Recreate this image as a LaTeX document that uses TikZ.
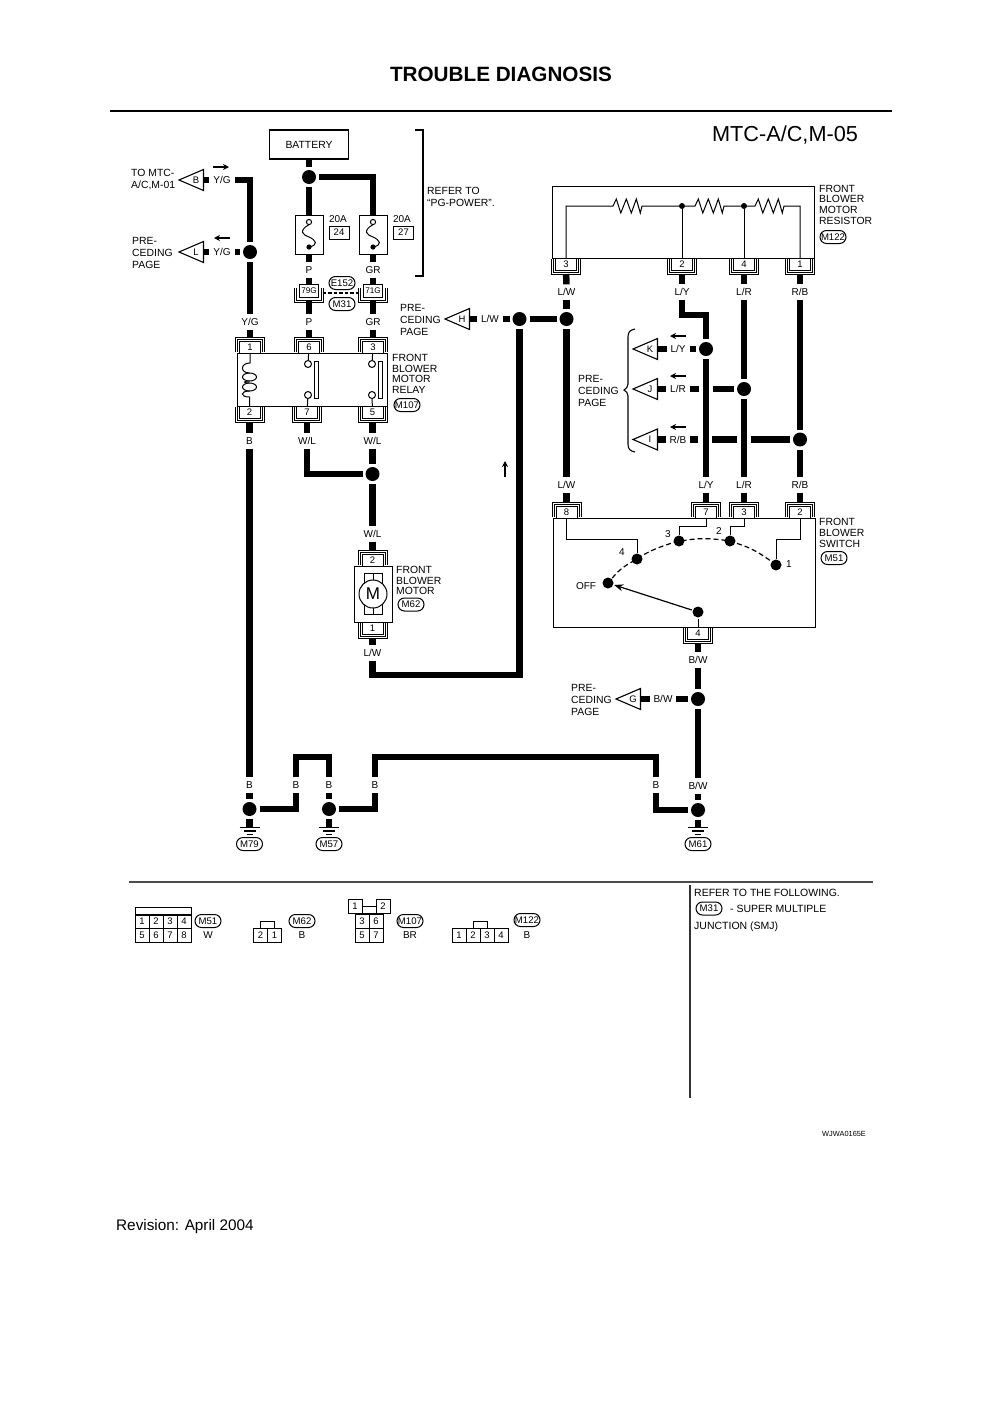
\documentclass[tikz,border=0pt]{standalone}
\usepackage{fontspec}
\setmainfont{Liberation Sans}
\usetikzlibrary{arrows.meta,positioning,shapes.misc}

\newcommand{\pinup}[4]{
	\draw[bracket] (#2-14.5,#3-1) -- (#2-14.5,#3-16) -- (#2+14.5,#3-16) -- (#2+14.5,#3-1);
	\draw[bracket] (#2-12.5,#3-1) -- (#2-12.5,#3-14) -- (#2+12.5,#3-14) -- (#2+12.5,#3-1);
	\node[pinbox] (#1) at (#2,#3-6) {#4};
}
\newcommand{\pindown}[4]{
	\draw[bracket] (#2-14.5,#3+1) -- (#2-14.5,#3+16) -- (#2+14.5,#3+16) -- (#2+14.5,#3+1);
	\draw[bracket] (#2-12.5,#3+1) -- (#2-12.5,#3+14) -- (#2+12.5,#3+14) -- (#2+12.5,#3+1);
	\node[pinbox] (#1) at (#2,#3+6) {#4};
}
\newcommand{\jointbox}[3]{
	\draw[bracket] (#2-14.5,288) -- (#2-14.5,302) -- (#2+14.5,302) -- (#2+14.5,288);
	\draw[bracket] (#2-12.5,288) -- (#2-12.5,300) -- (#2+12.5,300) -- (#2+12.5,288);
	\node[pinbox,minimum width=19,minimum height=13,font=\fontsize{8.2}{9}\selectfont] (#1) at (#2,290.5) {#3};
}
\newcommand{\tagshape}[4]{
	\draw[tagline] (#2,#3) -- (#2+24.5,#3-10.5) -- (#2+24.5,#3+10.5) -- cycle;
	\node[tagletter] (#1) at (#2+17,#3) {#4};
}
\newcommand{\fusebox}[2]{
	\node[devbox,minimum width=28,minimum height=39] (#1) at (#2,234.5) {};
	\draw[inwire,fill=white] (#2,222) circle (2.6);
	\draw[inwire] (#2,224.6) .. controls (#2-11,231) and (#2-6,235) .. (#2,237) .. controls (#2+7,240) and (#2+10,245) .. (#2,247);
	\fill (#2,247) circle (2.6);
}
\newcommand{\groundmark}[3]{
	\coordinate (#1) at (#2,827);
	\draw[gndline] (#2-10,827.5) -- (#2+10,827.5);
	\draw[gndline] (#2-6,831) -- (#2+6,831);
	\draw[gndline] (#2-3,834.5) -- (#2+3,834.5);
	\node[ovaltag] (#1tag) at (#2,844) {#3};
}
\newcommand{\zigpath}{-- ++(3.3,-7) -- ++(4.5,14) -- ++(5.5,-14) -- ++(5,14) -- ++(5,-14) -- ++(4,14) -- ++(1.7,-7)}

\begin{document}
\begin{tikzpicture}[x=1pt,y=-1pt,
	wire/.style={line width=6.5pt},
	inwire/.style={line width=1pt},
	bracket/.style={line width=0.8pt},
	tagline/.style={line width=1.1pt},
	gndline/.style={line width=1.2pt},
	flow/.style={line width=1.2pt,-{Stealth[length=6pt,width=6pt]}},
	wirelbl/.style={inner sep=0pt,outer sep=4pt,text height=7.2pt,text depth=0pt,font=\fontsize{10}{10}\selectfont},
	tagletter/.style={inner sep=0pt,minimum width=15,font=\fontsize{9.5}{10}\selectfont},
	pinbox/.style={draw,fill=white,line width=0.9pt,inner sep=0pt,outer sep=4pt,minimum width=21,minimum height=12,font=\fontsize{9.5}{10}\selectfont},
	devbox/.style={draw,line width=1pt,inner sep=0pt},
	junct/.style={circle,fill=black,inner sep=0pt,minimum size=14,outer sep=3pt},
	swdot/.style={circle,fill=black,inner sep=0pt,minimum size=11,outer sep=1pt},
	tapdot/.style={circle,fill=black,inner sep=0pt,minimum size=6,outer sep=0pt},
	opendot/.style={circle,draw,fill=white,line width=1pt,inner sep=0pt,minimum size=7},
	crossgap/.style={inner sep=0pt,minimum size=14,outer sep=0pt},
	ovaltag/.style={rounded rectangle,draw,line width=1pt,inner xsep=1pt,inner ysep=1pt,minimum width=28,minimum height=13,font=\fontsize{9.6}{10}\selectfont},
	descr/.style={inner sep=0pt,anchor=west,align=left,font=\fontsize{10.4}{10.7}\selectfont},
	pagetxt/.style={inner sep=0pt,anchor=west,align=left,font=\fontsize{10.4}{12}\selectfont},
	facecell/.style={draw,line width=0.9pt,inner sep=0pt,minimum width=14,minimum height=14,font=\fontsize{9.5}{10}\selectfont},
	facetxt/.style={inner sep=0pt,font=\fontsize{10}{10}\selectfont}]

	\useasboundingbox (0,0) rectangle (1000,1414);

	\node[font=\fontsize{20.7}{22}\selectfont\bfseries] (title) at (501,74) {TROUBLE DIAGNOSIS};
	\node[font=\fontsize{21.7}{23}\selectfont] (sheet) at (785,135) {MTC-A/C,M-05};
	\draw[line width=2.5pt] (110,111) -- (892,111);

	\node[devbox,line width=1.2pt,minimum width=79,minimum height=29,font=\fontsize{10.4}{11}\selectfont] (battery) at (309,144.5) {BATTERY};
	\node[junct] (dotBat) at (309,177) {};
	\fusebox{fuseP}{309}
	\fusebox{fuseGR}{373}
	\node[facetxt] (ampP) at (338,219) {20A};
	\node[devbox,minimum width=20,minimum height=13,font=\fontsize{9.5}{10}\selectfont] (boxP) at (339,232.5) {24};
	\node[facetxt] (ampGR) at (402,219) {20A};
	\node[devbox,minimum width=20,minimum height=13,font=\fontsize{9.5}{10}\selectfont] (boxGR) at (403.5,232.5) {27};
	\draw[line width=1.2pt] (415,130) -- (423,130) -- (423,276) -- (415,276);
	\node[pagetxt] (referPG) at (427,197) {REFER TO\\``PG-POWER''.};

	\node[wirelbl] (lblP1) at (309,270) {P};
	\node[wirelbl] (lblGR1) at (373,270) {GR};
	\jointbox{j79}{309}{79G}
	\jointbox{j71}{373}{71G}
	\node[ovaltag] (tagE152) at (342,283) {E152};
	\node[ovaltag] (tagM31) at (342,304) {M31};
	\draw[line width=1.2pt,dash pattern=on 3.5pt off 2pt] ([yshift=-2.5pt]j79.east) -- ([yshift=-2.5pt]j71.west);
	\node[wirelbl] (lblP2) at (309,322) {P};
	\node[wirelbl] (lblGR2) at (373,322) {GR};
	\node[wirelbl] (lblYG3) at (250,322) {Y/G};

	\path[wire]
	(battery) edge (dotBat)
	(dotBat) edge (fuseP)
	(fuseP) edge (lblP1)
	(fuseGR) edge (lblGR1)
	(lblP1) edge [shorten >=-4pt] (j79)
	(lblGR1) edge [shorten >=-4pt] (j71)
	(j79) edge (lblP2)
	(j71) edge (lblGR2);
	\draw[wire] (dotBat) -| (fuseGR);

	\tagshape{tagB}{179}{180}{B}
	\node[wirelbl] (lblYG1) at (222,180) {Y/G};
	\draw[flow] (213,167) -- (229,167);
	\node[pagetxt] (toMTC) at (131,180) {TO MTC-\\A/C,M-01};
	\coordinate (cnrYG) at (250,180);
	\tagshape{tagL}{179}{252}{L}
	\node[wirelbl] (lblYG2) at (222,252) {Y/G};
	\draw[flow] (230,238) -- (214,238);
	\node[pagetxt] (pageL) at (132,252.5) {PRE-\\CEDING\\PAGE};
	\node[junct] (dotL) at (250,252) {};
	\draw[wire] (tagB) -- (lblYG1);
	\draw[wire] (lblYG1) -- (cnrYG) -- (dotL);
	\draw[wire] (tagL) -- (lblYG2);
	\draw[wire] (lblYG2) -- (dotL);
	\draw[wire] (dotL) -- (lblYG3);

	\node[devbox,minimum width=150,minimum height=53] (relay) at (312,379.5) {};
	\pinup{pin1}{250}{353}{1}
	\pinup{pin6}{309}{353}{6}
	\pinup{pin3}{373}{353}{3}
	\pindown{pin2}{249.5}{406}{2}
	\pindown{pin7}{307}{406}{7}
	\pindown{pin5}{372.5}{406}{5}
	\draw[wire] (lblYG3) -- (pin1);
	\draw[wire] (lblP2) -- (pin6);
	\draw[wire] (lblGR2) -- (pin3);
	\node[opendot] (c6) at (308,364) {};
	\node[opendot] (c7) at (308,395) {};
	\node[opendot] (c3) at (372,364) {};
	\node[opendot] (c5) at (372,395) {};
	\draw[inwire,fill=white] (314,361) rectangle (318,398);
	\draw[inwire,fill=white] (378,361) rectangle (382,398);
	\draw[inwire,shorten <=-4pt] (pin6) -- (c6);
	\draw[inwire,shorten >=-4pt] (c7) -- (pin7);
	\draw[inwire,shorten <=-4pt] (pin3) -- (c3);
	\draw[inwire,shorten >=-4pt] (c5) -- (pin5);
	\draw[inwire] (249.5,377) ellipse (7 and 4);
	\draw[inwire] (249.5,387) ellipse (7 and 4);
	\draw[inwire,shorten <=-4pt] (pin1) -- (250,363) .. controls (240,363) and (240,373) .. (249.5,373);
	\draw[inwire] (249.5,381) .. controls (243,381) and (243,383) .. (249.5,383);
	\draw[inwire,shorten >=-4pt] (249.5,391) .. controls (240,391) and (240,397) .. (249.5,397) -- (pin2);
	\node[descr] (relayTxt) at (392,374) {FRONT\\BLOWER\\MOTOR\\RELAY};
	\node[ovaltag] (tagM107) at (407,405) {M107};

	\node[wirelbl] (lblB1) at (249.5,441) {B};
	\node[wirelbl] (lblWL1) at (307,441) {W/L};
	\node[wirelbl] (lblWL2) at (372.5,441) {W/L};
	\node[junct] (dotMot) at (372.5,474) {};
	\node[wirelbl] (lblWL3) at (372.5,534) {W/L};
	\path[wire]
	(pin2) edge (lblB1)
	(pin7) edge (lblWL1)
	(pin5) edge (lblWL2)
	(lblWL2) edge (dotMot)
	(dotMot) edge (lblWL3);
	\draw[wire] (lblWL1) |- (dotMot);

	\node[devbox,minimum width=38,minimum height=56] (motor) at (373,594) {};
	\draw[inwire] (364,573) rectangle (382,614);
	\draw[inwire] (373,573) -- (373,614);
	\node[circle,draw,fill=white,line width=1pt,inner sep=0pt,minimum size=28,font=\fontsize{17}{18}\selectfont] (motorM) at (373,594) {M};
	\pinup{pinM2}{372.5}{566}{2}
	\pindown{pinM1}{372.5}{622}{1}
	\node[descr] (motorTxt) at (396,580.5) {FRONT\\BLOWER\\MOTOR};
	\node[ovaltag] (tagM62) at (411,604.5) {M62};
	\node[wirelbl] (lblLW5) at (372.5,653) {L/W};
	\draw[wire] (lblWL3) -- (pinM2);
	\draw[wire] (pinM1) -- (lblLW5);

	\node[devbox,minimum width=262,minimum height=72] (resistor) at (683,222) {};
	\pindown{pinR3}{566}{258}{3}
	\pindown{pinR2}{682}{258}{2}
	\pindown{pinR4}{744}{258}{4}
	\pindown{pinR1}{800}{258}{1}
	\node[tapdot] (dotR2) at (682,206) {};
	\node[tapdot] (dotR4) at (744,206) {};
	\coordinate (cnrR3) at (566,206);
	\coordinate (cnrR1) at (800,206);
	\draw[inwire,shorten <=-4pt] (pinR3) -- (cnrR3) -- (613,206) \zigpath -- (dotR2);
	\draw[inwire] (dotR2) -- (695,206) \zigpath -- (dotR4);
	\draw[inwire,shorten >=-4pt] (dotR4) -- (755,206) \zigpath -- (cnrR1) -- (pinR1);
	\draw[inwire,shorten >=-4pt] (dotR2) -- (pinR2);
	\draw[inwire,shorten >=-4pt] (dotR4) -- (pinR4);
	\node[descr] (resistorTxt) at (819,204.5) {FRONT\\BLOWER\\MOTOR\\RESISTOR};
	\node[ovaltag] (tagM122) at (833,237) {M122};

	\node[wirelbl] (lblLW1) at (566.5,292) {L/W};
	\node[wirelbl] (lblLY1) at (682,292) {L/Y};
	\node[wirelbl] (lblLR1) at (744,292) {L/R};
	\node[wirelbl] (lblRB1) at (800,292) {R/B};
	\node[wirelbl] (lblLW3) at (566.5,485) {L/W};
	\node[wirelbl] (lblLY3) at (706,485) {L/Y};
	\node[wirelbl] (lblLR3) at (744,485) {L/R};
	\node[wirelbl] (lblRB3) at (800,485) {R/B};

	\node[junct] (dotLW) at (566.5,319) {};
	\node[junct] (dotH) at (519.5,319) {};
	\tagshape{tagH}{445}{319}{H}
	\node[wirelbl] (lblLW4) at (490,319) {L/W};
	\node[pagetxt] (pageH) at (400,319.5) {PRE-\\CEDING\\PAGE};
	\coordinate (cnrH) at (519.5,675);
	\draw[wire] (tagH) -- (lblLW4);
	\draw[wire] (lblLW4) -- (dotH);
	\draw[wire] (dotH) -- (dotLW);
	\draw[wire] (lblLW5) |- (cnrH) -- (dotH);
	\draw[flow] (505,477) -- (505,461);

	\node[junct] (dotK) at (706,349) {};
	\node[junct] (dotJ) at (744,389) {};
	\node[junct] (dotI) at (800,439.5) {};
	\tagshape{tagK}{633}{349}{K}
	\tagshape{tagJ}{633}{389}{J}
	\tagshape{tagI}{633}{439.5}{I}
	\node[wirelbl] (lblLY2) at (678,349) {L/Y};
	\node[wirelbl] (lblLR2) at (678,389) {L/R};
	\node[wirelbl] (lblRB2) at (678,439.5) {R/B};
	\node[crossgap] (gapJ) at (705.5,389) {};
	\node[crossgap] (gapI1) at (705,439.5) {};
	\node[crossgap] (gapI2) at (744,439.5) {};
	\coordinate (cnrLY) at (706,315);
	\draw[flow] (686,336) -- (670,336);
	\draw[flow] (686,376) -- (670,376);
	\draw[flow] (686,427) -- (670,427);
	\draw[line width=1.1pt] (635,329) .. controls (630,330) and (628,332) .. (628,337) -- (628,384) .. controls (628,387) and (626,389) .. (624,390) .. controls (626,391) and (628,393) .. (628,396) -- (628,444) .. controls (628,449) and (630,451) .. (635,452);
	\node[pagetxt] (pageKJI) at (578,390.5) {PRE-\\CEDING\\PAGE};

	\path[wire]
	(pinR3) edge (lblLW1)
	(pinR2) edge (lblLY1)
	(pinR4) edge (lblLR1)
	(pinR1) edge (lblRB1)
	(lblLW1) edge (dotLW)
	(dotLW) edge (lblLW3)
	(lblLR1) edge (dotJ)
	(dotJ) edge (lblLR3)
	(lblRB1) edge (dotI)
	(dotI) edge (lblRB3)
	(dotK) edge (lblLY3)
	(tagK) edge (lblLY2)
	(lblLY2) edge (dotK)
	(tagJ) edge (lblLR2)
	(lblLR2) edge (gapJ)
	(gapJ) edge (dotJ)
	(tagI) edge (lblRB2)
	(lblRB2) edge (gapI1)
	(gapI1) edge (gapI2)
	(gapI2) edge (dotI);
	\draw[wire] (lblLY1) |- (cnrLY) -- (dotK);

	\node[devbox,minimum width=262,minimum height=109] (switch) at (684,572.5) {};
	\pinup{pinS8}{566.5}{518}{8}
	\pinup{pinS7}{706}{518}{7}
	\pinup{pinS3}{744}{518}{3}
	\pinup{pinS2}{800}{518}{2}
	\pindown{pinS4}{698}{627}{4}
	\node[swdot] (sw4) at (637,559) {};
	\node[swdot] (sw3) at (679,541) {};
	\node[swdot] (sw2) at (730,541) {};
	\node[swdot] (sw1) at (776,565) {};
	\node[swdot] (swOff) at (608,583) {};
	\node[swdot] (swPivot) at (698,612) {};
	\coordinate (cnrS8) at (637,539);
	\coordinate (cnrS7) at (679,526);
	\coordinate (cnrS3) at (730,526);
	\coordinate (cnrS2) at (776,539);
	\draw[inwire,shorten <=-4pt] (pinS8) |- (cnrS8) -- (sw4);
	\draw[inwire,shorten <=-4pt] (pinS7) |- (cnrS7) -- (sw3);
	\draw[inwire,shorten <=-4pt] (pinS3) |- (cnrS3) -- (sw2);
	\draw[inwire,shorten <=-4pt] (pinS2) |- (cnrS2) -- (sw1);
	\draw[inwire,shorten >=-4pt] (swPivot) -- (pinS4);
	\draw[line width=1.2pt,-{Stealth[length=9pt,width=7pt]}] (swPivot) -- (swOff);
	\draw[line width=1.2pt,dash pattern=on 5pt off 3pt] (swOff) to[bend left=10] (sw4) to[bend left=8] (sw3) to[bend left=10] (sw2) to[bend left=12] (sw1);
	\node[facetxt] (num4) at (622,552) {4};
	\node[facetxt] (num3) at (668,534) {3};
	\node[facetxt] (num2) at (719,531) {2};
	\node[facetxt] (num1) at (789,564) {1};
	\node[facetxt] (numOff) at (586,586) {OFF};
	\node[descr] (switchTxt) at (819,533) {FRONT\\BLOWER\\SWITCH};
	\node[ovaltag] (tagM51) at (834,558) {M51};

	\path[wire]
	(lblLW3) edge (pinS8)
	(lblLY3) edge (pinS7)
	(lblLR3) edge (pinS3)
	(lblRB3) edge (pinS2);

	\node[wirelbl] (lblBW1) at (698,660) {B/W};
	\node[junct] (dotG) at (698,699) {};
	\tagshape{tagG}{616}{699}{G}
	\node[wirelbl] (lblBW2) at (663,699) {B/W};
	\node[pagetxt] (pageG) at (571,699.5) {PRE-\\CEDING\\PAGE};
	\node[wirelbl] (lblBW3) at (698,786) {B/W};
	\node[junct] (dotM61) at (698,810) {};
	\node[wirelbl] (lblB2) at (249.5,785) {B};
	\node[junct] (dotM79) at (249.5,809) {};
	\node[wirelbl] (lblB3) at (296,785) {B};
	\node[wirelbl] (lblB4) at (329,785) {B};
	\node[junct] (dotM57) at (329,809) {};
	\node[wirelbl] (lblB5) at (375,785) {B};
	\node[wirelbl] (lblB6) at (656,785) {B};
	\coordinate (cnrB1) at (329,757);
	\coordinate (cnrB2) at (656,757);
	\groundmark{gndM79}{249.5}{M79}
	\groundmark{gndM57}{329}{M57}
	\groundmark{gndM61}{698}{M61}

	\path[wire]
	(pinS4) edge (lblBW1)
	(lblBW1) edge (dotG)
	(tagG) edge (lblBW2)
	(lblBW2) edge (dotG)
	(dotG) edge (lblBW3)
	(lblBW3) edge (dotM61)
	(lblB1) edge (lblB2)
	(lblB2) edge (dotM79)
	(lblB4) edge (dotM57)
	(dotM79) edge (gndM79)
	(dotM57) edge (gndM57)
	(dotM61) edge (gndM61);
	\draw[wire] (dotM79) -| (lblB3);
	\draw[wire] (lblB3) |- (cnrB1) -- (lblB4);
	\draw[wire] (dotM57) -| (lblB5);
	\draw[wire] (lblB5) |- (cnrB2) -- (lblB6);
	\draw[wire] (lblB6) |- (dotM61);

	\draw[line width=1.5pt,black!70] (129,882) -- (873,882);
	\draw[line width=1.3pt,black!80] (690,885) -- (690,1098);

	\draw[line width=0.9pt] (135,907) rectangle (191,915);
	\foreach \n [count=\i] in {1,2,3,4}
		\node[facecell] (faceA\n) at ({128+14*\i},921.5) {\n};
	\foreach \n [count=\i] in {5,6,7,8}
		\node[facecell] (faceA\n) at ({128+14*\i},935) {\n};
	\node[ovaltag] (faceTagA) at (208,921) {M51};
	\node[facetxt] (faceColA) at (208,935) {W};

	\draw[line width=0.9pt] (260,921) rectangle (274,928);
	\node[facecell] (faceB2) at (260.5,935) {2};
	\node[facecell] (faceB1) at (274.5,935) {1};
	\node[ovaltag] (faceTagB) at (302,921) {M62};
	\node[facetxt] (faceColB) at (302,935) {B};

	\node[facecell] (faceC1) at (355,906.5) {1};
	\node[facecell] (faceC2) at (383,906.5) {2};
	\draw[line width=0.9pt] (faceC1.east) -- (faceC2.west);
	\draw[line width=0.9pt] (362,913.5) -- (376,913.5);
	\node[facecell] (faceC3) at (362,921) {3};
	\node[facecell] (faceC6) at (376,921) {6};
	\node[facecell] (faceC5) at (362,935) {5};
	\node[facecell] (faceC7) at (376,935) {7};
	\node[ovaltag] (faceTagC) at (410,921) {M107};
	\node[facetxt] (faceColC) at (410,935) {BR};

	\draw[line width=0.9pt] (473,921) rectangle (487,928);
	\foreach \n [count=\i] in {1,2,3,4}
		\node[facecell] (faceD\n) at ({445+14*\i},935) {\n};
	\node[ovaltag] (faceTagD) at (527,920) {M122};
	\node[facetxt] (faceColD) at (527,935) {B};

	\node[descr,font=\fontsize{10.5}{11}\selectfont] (refer1) at (694,893) {REFER TO THE FOLLOWING.};
	\node[ovaltag] (referTag) at (709,908.5) {M31};
	\node[descr,font=\fontsize{10.5}{11}\selectfont] (refer2) at (730,909) {- SUPER MULTIPLE};
	\node[descr,font=\fontsize{10.5}{11}\selectfont] (refer3) at (694,926.5) {JUNCTION (SMJ)};

	\node[descr,font=\fontsize{7.4}{8}\selectfont] (figId) at (822,1134) {WJWA0165E};
	\node[descr,font=\fontsize{15.3}{16}\selectfont] (revision) at (116,1227) {Revision: April 2004};
\end{tikzpicture}
\end{document}
